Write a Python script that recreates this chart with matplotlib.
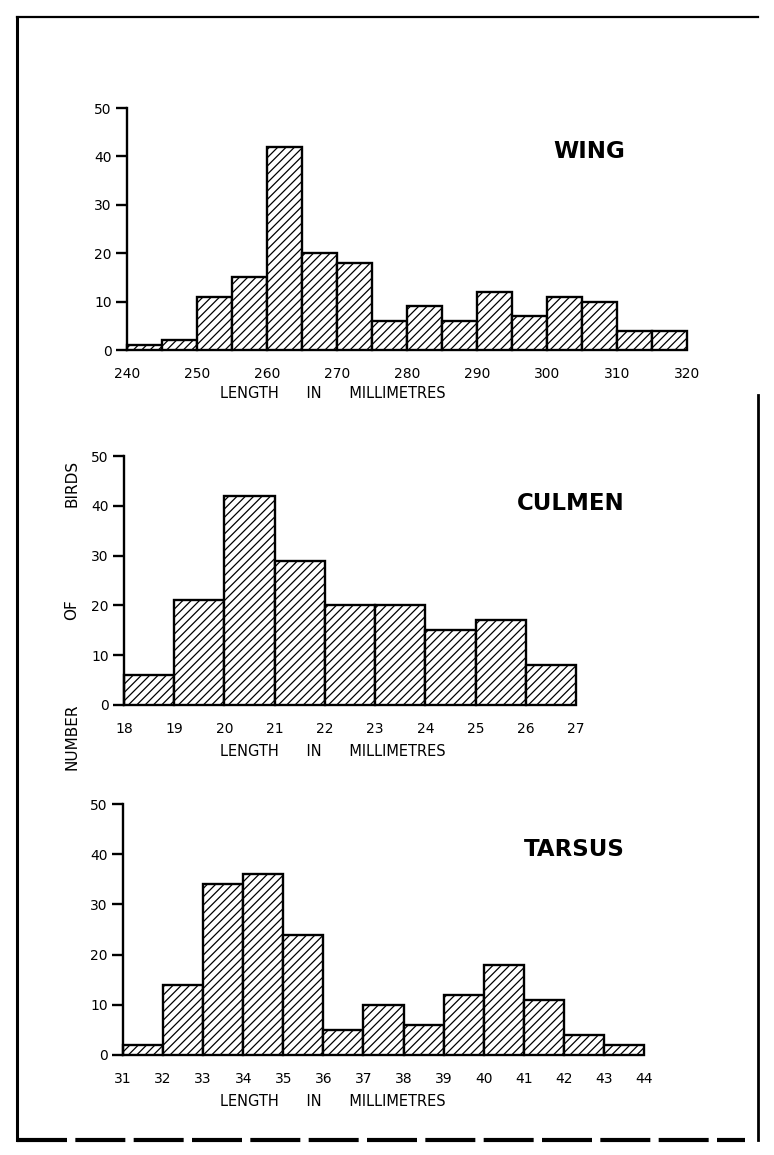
import matplotlib
matplotlib.use("Agg")
import matplotlib.pyplot as plt

# bin starts and counts
wing_starts = [240, 245, 250, 255, 260, 265, 270, 275, 280, 285, 290, 295, 300, 305, 310, 315]
wing_counts = [1, 2, 11, 15, 42, 20, 18, 6, 9, 6, 12, 7, 11, 10, 4, 4]
wing_ticks = [240, 250, 260, 270, 280, 290, 300, 310, 320]

culmen_starts = [18, 19, 20, 21, 22, 23, 24, 25, 26]
culmen_counts = [6, 21, 42, 29, 20, 20, 15, 17, 8]
culmen_ticks = [18, 19, 20, 21, 22, 23, 24, 25, 26, 27]

tarsus_starts = [31, 32, 33, 34, 35, 36, 37, 38, 39, 40, 41, 42, 43]
tarsus_counts = [2, 14, 34, 36, 24, 5, 10, 6, 12, 18, 11, 4, 2]
tarsus_ticks = [31, 32, 33, 34, 35, 36, 37, 38, 39, 40, 41, 42, 43, 44]

y_ticks = [0, 10, 20, 30, 40, 50]

W, H = 774, 1155
plt.rcParams['font.family'] = ['DejaVu Sans']
plt.rcParams['hatch.linewidth'] = 0.9

fig = plt.figure(figsize=(W / 100, H / 100), dpi=100)


def fx(x):
    return x / W


def fy(y):
    return 1 - y / H


def panel(x0, x1, y0, y50, starts, counts, width, ticks, title, title_y, lab_y):
    ax = fig.add_axes([fx(x0), fy(y0), fx(x1) - fx(x0), fy(y50) - fy(y0)])
    ax.bar(starts, counts, width=width, align='edge', facecolor='white',
           edgecolor='black', hatch='////', linewidth=1.7, clip_on=False)
    ax.set_xlim(starts[0], starts[-1] + width)
    ax.set_ylim(0, 50)
    for s in ['top', 'right', 'bottom']:
        ax.spines[s].set_visible(False)
    ax.spines['left'].set_linewidth(1.7)
    ax.set_yticks(y_ticks)
    ax.set_xticks(ticks)
    ax.tick_params(axis='y', direction='out', length=8, width=1.7, labelsize=10, pad=3)
    ax.tick_params(axis='x', length=0, labelsize=10, pad=12)
    fig.text(fx(625), fy(title_y), title, ha='right', va='center',
             fontsize=16.5, fontweight='bold')
    fig.text(fx(220), fy(lab_y), "LENGTH      IN      MILLIMETRES",
             ha='left', va='center', fontsize=10.5)
    return ax


panel(127, 687, 350, 108, wing_starts, wing_counts, 5, wing_ticks, "WING", 152, 393)
panel(124, 576, 705, 456, culmen_starts, culmen_counts, 1, culmen_ticks, "CULMEN", 504, 751)
panel(123, 644, 1055, 804, tarsus_starts, tarsus_counts, 1, tarsus_ticks, "TARSUS", 849, 1102)

# vertical axis title split in three words
for word, yy in [("BIRDS", 483), ("OF", 610), ("NUMBER", 737)]:
    fig.text(fx(72), fy(yy), word, rotation=90, ha='center', va='center', fontsize=11)

# scanned page frame
fig.add_artist(plt.Line2D([fx(17), fx(17)], [fy(17), fy(1140)], color='black', lw=2.2))
fig.add_artist(plt.Line2D([fx(17), fx(758)], [fy(17), fy(17)], color='black', lw=1.6))
fig.add_artist(plt.Line2D([fx(758), fx(758)], [fy(395), fy(1140)], color='black', lw=2.0))
fig.add_artist(plt.Line2D([fx(17), fx(745)], [fy(1140), fy(1140)], color='black', lw=3,
                          linestyle=(0, (12, 2))))

fig.savefig("out.png", dpi=100)
